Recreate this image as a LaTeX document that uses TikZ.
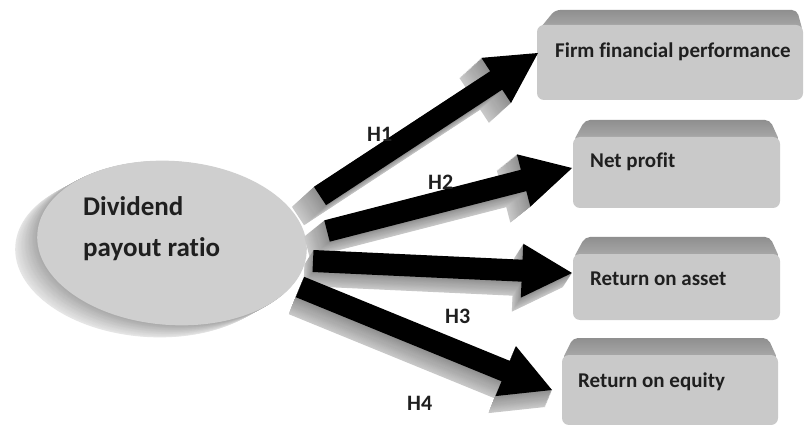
\documentclass[tikz,border=0pt]{standalone}
\usepackage{fontspec}
\setmainfont{Carlito}[Ligatures={NoCommon}]
\usetikzlibrary{calc}
\tikzset{
  boxfront/.style={rectangle, rounded corners=7pt, fill=black!21, inner sep=0pt},
  boxtxt/.style={anchor=base west, inner sep=0pt, text=black!88, font=\fontsize{21}{25}\selectfont\bfseries},
  disctxt/.style={anchor=base west, inner sep=0pt, text=black!88, font=\fontsize{27}{32}\selectfont\bfseries},
  hlabel/.style={anchor=base west, inner sep=0pt, text=black!88, font=\fontsize{22}{26}\selectfont\bfseries},
}
% 3D arrow: #1 name, #2 tail, #3 tip, #4/#5 extrusion vector (pixels, y down)
\newcommand\solidarrow[5]{%
  \coordinate (#1B) at ($(#3)!50pt!(#2)$);
  \coordinate (#1t1) at ($(#2)!11pt!90:(#3)$);
  \coordinate (#1b1) at ($(#1B)!11pt!-90:(#2)$);
  \coordinate (#1h1) at ($(#1B)!27pt!-90:(#2)$);
  \coordinate (#1h2) at ($(#1B)!27pt!90:(#2)$);
  \coordinate (#1b2) at ($(#1B)!11pt!90:(#2)$);
  \coordinate (#1t2) at ($(#2)!11pt!-90:(#3)$);
  \foreach \k in {24,23,...,1}{
    \pgfmathsetmacro\f{\k/24}
    \pgfmathtruncatemacro\c{44-22*\f}
    \fill[black!\c] ($(#1t1)+(\f*#4,\f*#5)$) -- ($(#1b1)+(\f*#4,\f*#5)$) -- ($(#1h1)+(\f*#4,\f*#5)$) -- ($(#3)+(\f*#4,\f*#5)$) -- ($(#1h2)+(\f*#4,\f*#5)$) -- ($(#1b2)+(\f*#4,\f*#5)$) -- ($(#1t2)+(\f*#4,\f*#5)$) -- cycle;
  }
  \fill[black] (#1t1) -- (#1b1) -- (#1h1) -- (#3) -- (#1h2) -- (#1b2) -- (#1t2) -- cycle;
}
\begin{document}
\begin{tikzpicture}[x=1pt,y=-1pt]
\useasboundingbox (0,0) rectangle (804,425);
\fill[white] (0,0) rectangle (804,425);

% ---- disc ----
\coordinate (dc) at (172,243);
\foreach \k in {30,29,...,1}{
  \pgfmathsetmacro\f{\k/30}
  \pgfmathtruncatemacro\c{34-24*\f}
  \fill[black!\c] ($(dc)+(\f*-22,\f*12)$) circle [x radius=135, y radius=82, rotate=-4];
}
\fill[black!19] (dc) circle [x radius=135, y radius=82, rotate=-4];
\node[disctxt] (d1) at (83,215) {Dividend};
\node[disctxt] (d2) at (83,257) {payout ratio};

% ---- boxes ----
\shade[top color=black!44, bottom color=black!32, rounded corners=5pt]
  (537,32) -- (555,10) -- (797,10) -- (803,32) -- cycle;
\node[boxfront, minimum width=266pt, minimum height=75pt] (b1) at (670,62.5) {};
\node[boxtxt] (t1) at (555,58) {Firm financial performance};

\shade[top color=black!44, bottom color=black!32, rounded corners=5pt]
  (573,142) -- (585,120) -- (770,120) -- (780,142) -- cycle;
\node[boxfront, minimum width=207pt, minimum height=71pt] (b2) at (676.5,172.5) {};
\node[boxtxt] (t2) at (590,168) {Net profit};

\shade[top color=black!44, bottom color=black!32, rounded corners=5pt]
  (573,259) -- (585,237) -- (770,237) -- (780,259) -- cycle;
\node[boxfront, minimum width=207pt, minimum height=66pt] (b3) at (676.5,287) {};
\node[boxtxt] (t3) at (590,285) {Return on asset};

\shade[top color=black!44, bottom color=black!32, rounded corners=5pt]
  (562,360) -- (573,338) -- (768,338) -- (778,360) -- cycle;
\node[boxfront, minimum width=216pt, minimum height=70pt] (b4) at (670,390) {};
\node[boxtxt] (t4) at (578,387) {Return on equity};

% ---- arrows ----
\coordinate (a1s) at (320,196); \coordinate (a1e) at (538,53);
\coordinate (a2s) at (327,231); \coordinate (a2e) at (572,168);
\coordinate (a3s) at (313,261); \coordinate (a3e) at (572,273);
\coordinate (a4s) at (300,287); \coordinate (a4e) at (552,390);
\solidarrow{ar1}{a1s}{a1e}{-22}{20}
\solidarrow{ar2}{a2s}{a2e}{-20}{16}
\solidarrow{ar3}{a3s}{a3e}{-9}{14}
\solidarrow{ar4}{a4s}{a4e}{-7}{17}

% ---- labels ----
\node[hlabel] (h1) at (367,142) {H1};
\node[hlabel] (h2) at (428,190) {H2};
\node[hlabel] (h3) at (445,323) {H3};
\node[hlabel] (h4) at (407,410) {H4};
\end{tikzpicture}
\end{document}
